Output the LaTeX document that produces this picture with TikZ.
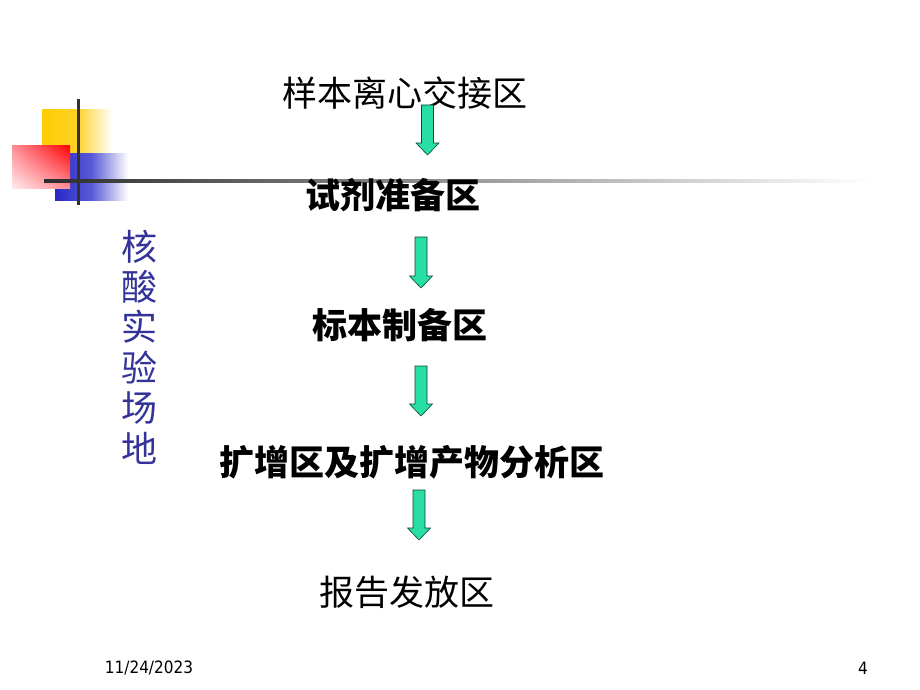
\documentclass[tikz,border=0pt]{standalone}
\usepackage{fontspec}
\usetikzlibrary{shadings}
\setmainfont{DejaVu Sans}
\newfontfamily\cjk{Noto Sans CJK SC}
\newfontfamily\foot{DejaVu Sans Condensed}
\newcommand{\blockarrow}[3]{%
  \path[flowarrow] (#1-6,#2) -- (#1+6,#2) -- (#1+6,#3-12) -- (#1+11.5,#3-12) -- (#1,#3) -- (#1-11.5,#3-12) -- (#1-6,#3-12) -- cycle;}
\begin{document}
\begin{tikzpicture}[x=1pt,y=-1pt,
  stage/.style={font=\cjk\fontsize{35}{38}\selectfont, inner sep=0pt, anchor=center},
  boldstage/.style={stage, font=\cjk\bfseries\fontsize{35}{38}\selectfont},
  flowarrow/.style={fill={rgb,255:red,40;green,222;blue,165}, draw={rgb,255:red,10;green,70;blue,50}, line width=0.6pt},
  decoline/.style={draw={rgb,255:red,50;green,50;blue,50}, line width=3pt},
  footer/.style={font=\foot\fontsize{17}{20}\selectfont, inner sep=0pt}]
\useasboundingbox (0,0) rectangle (920,690);
\fill[white] (0,0) rectangle (920,690);
% decoration
\shade[left color={rgb,255:red,255;green,204;blue,0}, right color=white, middle color={rgb,255:red,255;green,210;blue,40}] (42,110) rectangle (112,153);
\shade[left color={rgb,255:red,40;green,40;blue,200}, right color=white, middle color={rgb,255:red,90;green,90;blue,215}] (55,153) rectangle (128,200);
\shade[upper right={rgb,255:red,255;green,0;blue,0}, upper left={rgb,255:red,255;green,140;blue,150}, lower right={rgb,255:red,255;green,140;blue,150}, lower left={rgb,255:red,255;green,235;blue,235}] (12,145) rectangle (70,188);
\path[decoline] (78,99) -- (78,205);
\shade[left color={rgb,255:red,45;green,45;blue,45}, right color=white] (44,179.5) rectangle (870,182.5);
% side title
\node[font=\cjk\fontsize{36}{40.4}\selectfont, text={rgb,255:red,51;green,51;blue,153}, align=center, inner sep=0pt] (title) at (139,347) {核\\酸\\实\\验\\场\\地};
% stages
\node[stage] (s1) at (405,93) {样本离心交接区};
\node[boldstage] (s2) at (393,195) {试剂准备区};
\node[boldstage] (s3) at (400,325) {标本制备区};
\node[boldstage] (s4) at (412,462) {扩增区及扩增产物分析区};
\node[stage] (s5) at (407,592) {报告发放区};
% arrows
\blockarrow{427.5}{105}{155}
\blockarrow{421}{237}{288}
\blockarrow{421}{366}{416}
\blockarrow{419}{490}{540}
% footer
\node[footer] (date) at (149,668) {11/24/2023};
\node[footer] (page) at (863,668) {4};
\end{tikzpicture}
\end{document}
